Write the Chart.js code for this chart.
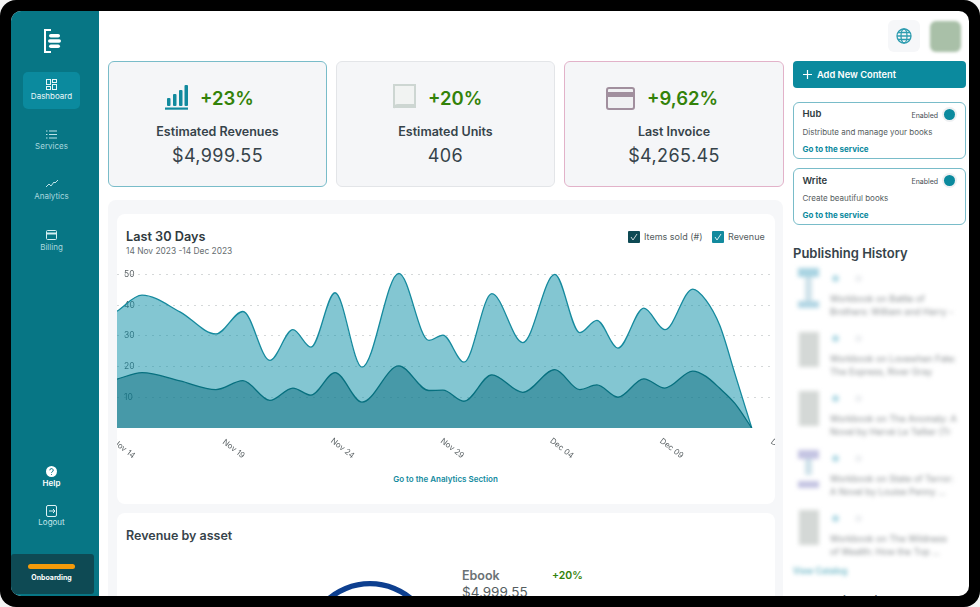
<!DOCTYPE html>
<html><head><meta charset="utf-8">
<script src="https://cdn.jsdelivr.net/npm/chart.js@4"></script>
<style>
*{box-sizing:border-box}
html,body{margin:0;padding:0;width:980px;height:607px;overflow:hidden;background:#f4f4f4;font-family:Inter,"Noto Sans",sans-serif}
#frame{position:absolute;left:0;top:0;width:980px;height:607px;background:#000;border-radius:16px;overflow:hidden}
#screen{position:absolute;left:11px;top:11px;width:958px;height:585px;background:#fff;border-radius:10px;overflow:hidden}
#page{position:absolute;left:-11px;top:-11px;width:980px;height:607px}
.a{position:absolute}
.t{position:absolute;white-space:nowrap;transform:translateY(-50%);line-height:1}
.c{transform:translate(-50%,-50%);text-align:center}
.kpi{position:absolute;top:61px;height:126px;background:#f5f6f8;border:1px solid #e3e5e8;border-radius:6px}
.svc{position:absolute;left:793px;width:173px;height:57px;border:1px solid #79bcc9;border-radius:6px;background:#fff}
.dot{position:absolute;left:944px;width:11px;height:11px;border-radius:50%;background:#0b8a9e;box-shadow:0 0 0 2px #eef0f2}
.blur{filter:blur(2.2px)}
</style></head><body>
<div id="frame"><div id="screen"><div id="page">

<div class="a" style="left:11px;top:11px;width:88px;height:585px;background:#077685"></div>
<svg class="a" style="left:42px;top:29px" width="20" height="25" viewBox="0 0 20 25"><path d="M9 1H3v22h6" fill="none" stroke="#fff" stroke-width="2"/><rect x="7" y="5" width="11" height="3.6" rx="1.8" fill="#fff"/><rect x="6" y="10.2" width="13" height="3.6" rx="1.8" fill="#fff"/><rect x="7" y="15.4" width="11" height="3.6" rx="1.8" fill="#fff"/></svg>
<div class="a" style="left:23px;top:72px;width:57px;height:37px;background:#0b8a9e;border-radius:5px"></div>
<svg class="a" style="left:46px;top:79px" width="11" height="11" viewBox="0 0 11 11" fill="none" stroke="#e8f6f8"><rect x=".5" y=".5" width="4" height="5"/><rect x="6.5" y=".5" width="4" height="3"/><rect x=".5" y="7.5" width="4" height="3"/><rect x="6.5" y="5.5" width="4" height="5"/></svg>
<div class="t c" style="left:51.5px;top:96px;font-size:8px;color:#eaf7f9">Dashboard</div>
<svg class="a" style="left:46px;top:130px" width="11" height="9" viewBox="0 0 11 9" stroke="#bfe3e8"><path d="M0 1h1.5M3 1h8M0 4.500h1.500M3 4.500h8M0 8h1.500M3 8h8"/></svg>
<div class="t c" style="left:51.500px;top:146px;font-size:8px;color:#a9d8df">Services</div>
<svg class="a" style="left:46px;top:180px" width="12" height="8" viewBox="0 0 12 8" fill="none" stroke="#bfe3e8"><path d="M0 7l3-3 2 2 3-4 1 1 3-3"/></svg>
<div class="t c" style="left:51.500px;top:196px;font-size:8px;color:#a9d8df">Analytics</div>
<svg class="a" style="left:46px;top:230px" width="11" height="10" viewBox="0 0 11 10" fill="none" stroke="#d5eef1"><rect x=".5" y=".5" width="10" height="9" rx="1"/><path d="M.5 3.500h10" stroke-width="2"/></svg>
<div class="t c" style="left:51.500px;top:247px;font-size:8px;color:#a9d8df">Billing</div>
<svg class="a" style="left:46px;top:466px" width="11" height="11" viewBox="0 0 11 11"><circle cx="5.500" cy="5.500" r="5.500" fill="#fff"/><path d="M3.800 4.300a1.700 1.700 0 1 1 2.500 1.500c-.6.300-.8.600-.8 1.100M5.500 8.100v.8" stroke="#077685" fill="none"/></svg>
<div class="t c" style="left:51.500px;top:483px;font-size:8px;font-weight:600;color:#fff">Help</div>
<svg class="a" style="left:46px;top:505px" width="11" height="12" viewBox="0 0 11 12" fill="none" stroke="#dff2f5"><rect x=".5" y=".5" width="10" height="11" rx="1.500"/><path d="M3 6h6M7 4l2 2-2 2"/></svg>
<div class="t c" style="left:51.500px;top:522px;font-size:8px;color:#c5e6eb">Logout</div>
<div class="a" style="left:11px;top:554px;width:83px;height:40px;background:#0e4a54;border-radius:3px"></div>
<div class="a" style="left:28px;top:564px;width:47px;height:5px;background:#f39a0a;border-radius:3px"></div>
<div class="t c" style="left:51.500px;top:577px;font-size:7px;font-weight:700;color:#fff">Onboarding</div>

<div class="kpi" style="left:108px;width:219px;border-color:#79bcc9"></div>
<div class="kpi" style="left:336px;width:219px"></div>
<div class="kpi" style="left:564px;width:220px;border-color:#e2b2c9"></div>

<svg class="a" style="left:165px;top:84px" width="24" height="26" viewBox="0 0 24 26" fill="#128a9e"><rect x="2" y="14" width="3.500" height="8" rx="1"/><rect x="8" y="10" width="3.500" height="12" rx="1"/><rect x="14" y="6" width="3.500" height="16" rx="1"/><rect x="19.500" y="1" width="3.500" height="21" rx="1"/><rect x="0" y="23.500" width="23" height="2.200"/></svg>
<div class="t" style="left:200px;top:98px;font-size:18.500px;font-weight:600;color:#338209">+23%</div>
<div class="t c" style="left:217.500px;top:132px;font-size:12.500px;font-weight:600;color:#36434a">Estimated Revenues</div>
<div class="t c" style="left:217.500px;top:155.500px;font-size:18px;color:#36434a;letter-spacing:.4px">$4,999.55</div>

<svg class="a" style="left:393px;top:84px" width="24" height="26" viewBox="0 0 24 26" fill="none" stroke="#cdd6d2" stroke-width="2"><path d="M1 1h21v20H5a4 4 0 0 0-4 3z" fill="#f1f3f2"/><path d="M1 23h22"/></svg>
<div class="t" style="left:428px;top:98px;font-size:18.500px;font-weight:600;color:#338209">+20%</div>
<div class="t c" style="left:445.500px;top:132px;font-size:12.500px;font-weight:600;color:#36434a">Estimated Units</div>
<div class="t c" style="left:445.500px;top:155.500px;font-size:18px;color:#36434a;letter-spacing:.4px">406</div>

<svg class="a" style="left:606px;top:87px" width="29" height="23" viewBox="0 0 29 23"><rect x="1" y="1" width="27" height="21" rx="2" fill="#f0f1f3" stroke="#a18f9e" stroke-width="2"/><rect x="1" y="5" width="27" height="5" fill="#a18f9e"/></svg>
<div class="t" style="left:647px;top:98px;font-size:18.500px;font-weight:600;color:#338209">+9,62%</div>
<div class="t c" style="left:674px;top:132px;font-size:12.500px;font-weight:600;color:#36434a">Last Invoice</div>
<div class="t c" style="left:674px;top:155.500px;font-size:18px;color:#36434a;letter-spacing:.4px">$4,265.45</div>

<div class="a" style="left:108px;top:200px;width:675px;height:420px;background:#f6f7f9;border-radius:8px"></div>
<div class="a" style="left:117px;top:214px;width:658px;height:290px;background:#fff;border-radius:8px"></div>
<div class="a" style="left:117px;top:513px;width:658px;height:120px;background:#fff;border-radius:8px"></div>

<div class="t" style="left:126px;top:236.500px;font-size:12.700px;font-weight:600;color:#2f3a3e">Last 30 Days</div>
<div class="t" style="left:126px;top:251px;font-size:8.400px;color:#666d70">14 Nov 2023 -14 Dec 2023</div>

<svg class="a" style="left:628px;top:231px" width="12" height="12" viewBox="0 0 12 12"><rect width="12" height="12" rx="1" fill="#0e4a54"/><path d="M3 6l2 3 4-6" fill="none" stroke="#c9d6d8"/></svg>
<div class="t" style="left:644px;top:236px;font-size:9px;color:#555d60">Items sold (#)</div>
<svg class="a" style="left:712px;top:231px" width="12" height="12" viewBox="0 0 12 12"><rect width="12" height="12" rx="1" fill="#128a9e"/><path d="M3 6l2 3 4-6" fill="none" stroke="#d6eef2"/></svg>
<div class="t" style="left:728px;top:236px;font-size:9px;color:#555d60">Revenue</div>

<div class="a" style="left:117px;top:262px;width:658px;height:208px"><canvas id="trend"></canvas></div>
<div class="t c" style="left:445.500px;top:479px;font-size:8px;font-weight:600;color:#128a9e">Go to the Analytics Section</div>

<div class="t" style="left:126px;top:536px;font-size:12.500px;font-weight:600;color:#36434a">Revenue by asset</div>
<div class="a" style="left:290px;top:567px;width:160px;height:160px"><canvas id="asset"></canvas></div>
<div class="t" style="left:462px;top:576px;font-size:12.500px;font-weight:600;color:#6b7275">Ebook</div>
<div class="t" style="left:552px;top:576px;font-size:10.500px;font-weight:600;color:#338209">+20%</div>
<div class="t" style="left:462px;top:593px;font-size:13.500px;color:#555d60">$4,999.55</div>

<div class="a" style="left:888px;top:20px;width:32px;height:32px;background:#f6f7f9;border-radius:6px"></div>
<svg class="a" style="left:896px;top:28px" width="16" height="16" viewBox="0 0 16 16" fill="none" stroke="#2f9db0" stroke-width="1.300"><circle cx="8" cy="8" r="7"/><ellipse cx="8" cy="8" rx="3" ry="7"/><path d="M1 8h14M2 4.500h12M2 11.500h12"/></svg>
<div class="a" style="left:930px;top:21px;width:31px;height:31px;background:#a9c0a8;border-radius:6px;filter:blur(1.500px)"></div>

<div class="a" style="left:793px;top:61px;width:173px;height:27px;background:#0b8a9e;border-radius:4px"></div>
<svg class="a" style="left:803px;top:70px" width="9" height="9" viewBox="0 0 9 9" stroke="#fff" stroke-width="1.200"><path d="M4.500 0v9M0 4.500h9"/></svg>
<div class="t" style="left:817px;top:75px;font-size:9.300px;font-weight:600;color:#fff">Add New Content</div>

<div class="svc" style="top:102px"></div>
<div class="t" style="left:802.500px;top:114px;font-size:9.500px;font-weight:600;color:#2f3a3e">Hub</div>
<div class="t" style="left:911.500px;top:114.500px;font-size:7px;color:#444c50">Enabled</div>
<div class="dot" style="top:109px"></div>
<div class="t" style="left:802.500px;top:132px;font-size:8px;color:#555d60">Distribute and manage your books</div>
<div class="t" style="left:802.500px;top:149px;font-size:8px;font-weight:700;color:#0b8a9e">Go to the service</div>

<div class="svc" style="top:168px"></div>
<div class="t" style="left:802.500px;top:181px;font-size:9.500px;font-weight:600;color:#2f3a3e">Write</div>
<div class="t" style="left:911.500px;top:181px;font-size:7px;color:#444c50">Enabled</div>
<div class="dot" style="top:175px"></div>
<div class="t" style="left:802.500px;top:198px;font-size:8px;color:#555d60">Create beautiful books</div>
<div class="t" style="left:802.500px;top:215px;font-size:8px;font-weight:700;color:#0b8a9e">Go to the service</div>

<div class="t" style="left:793px;top:253px;font-size:13px;font-weight:600;color:#36434a">Publishing History</div>

<div class="blur">
<div class="a" style="left:798px;top:268px;width:21px;height:9px;background:#a9d4e2"></div><div class="a" style="left:805px;top:277px;width:7px;height:24px;background:#cfe2ea"></div><div class="a" style="left:798px;top:301px;width:21px;height:7px;background:#b2d6e4"></div>
<div class="a" style="left:799px;top:332px;width:20px;height:35px;background:#d4d8d6"></div>
<div class="a" style="left:799px;top:391px;width:20px;height:35px;background:#d4d8d6"></div>
<div class="a" style="left:798px;top:450px;width:21px;height:9px;background:#c4c4e2"></div><div class="a" style="left:805px;top:459px;width:7px;height:16px;background:#cfe2ea"></div><div class="a" style="left:798px;top:481px;width:21px;height:7px;background:#c4c4e2"></div>
<div class="a" style="left:799px;top:510px;width:20px;height:35px;background:#d4d8d6"></div>
<div class="a" style="left:832px;top:275px;width:7px;height:7px;border-radius:50%;background:#b4dbe6"></div><div class="a" style="left:855px;top:275px;width:7px;height:7px;border-radius:50%;background:#eef0f2"></div>
<div class="a" style="left:832px;top:335px;width:7px;height:7px;border-radius:50%;background:#b4dbe6"></div><div class="a" style="left:855px;top:335px;width:7px;height:7px;border-radius:50%;background:#eef0f2"></div>
<div class="a" style="left:832px;top:395px;width:7px;height:7px;border-radius:50%;background:#b4dbe6"></div><div class="a" style="left:855px;top:395px;width:7px;height:7px;border-radius:50%;background:#eef0f2"></div>
<div class="a" style="left:832px;top:455px;width:7px;height:7px;border-radius:50%;background:#b4dbe6"></div><div class="a" style="left:855px;top:455px;width:7px;height:7px;border-radius:50%;background:#eef0f2"></div>
<div class="a" style="left:832px;top:515px;width:7px;height:7px;border-radius:50%;background:#b4dbe6"></div><div class="a" style="left:855px;top:515px;width:7px;height:7px;border-radius:50%;background:#eef0f2"></div>
<div class="t" style="left:830px;top:298px;font-size:9px;color:#8a8f92">Workbook on Battle of</div><div class="t" style="left:830px;top:311px;font-size:9px;color:#8a8f92">Brothers: William and Harry -</div>
<div class="t" style="left:830px;top:358px;font-size:9px;color:#8a8f92">Workbook on Lovewhen Fate:</div><div class="t" style="left:830px;top:371px;font-size:9px;color:#8a8f92">The Express, River Gray</div>
<div class="t" style="left:830px;top:418px;font-size:9px;color:#8a8f92">Workbook on The Anomaly: A</div><div class="t" style="left:830px;top:431px;font-size:9px;color:#8a8f92">Novel by Hervé Le Tellier (Tr</div>
<div class="t" style="left:830px;top:478px;font-size:9px;color:#8a8f92">Workbook on State of Terror:</div><div class="t" style="left:830px;top:491px;font-size:9px;color:#8a8f92">A Novel by Louise Penny ...</div>
<div class="t" style="left:830px;top:538px;font-size:9px;color:#8a8f92">Workbook on The Wildness</div><div class="t" style="left:830px;top:551px;font-size:9px;color:#8a8f92">of Wealth: How the Top ...</div>
<div class="t" style="left:793px;top:571px;font-size:8.500px;font-weight:600;color:#6cb6c6">View Catalog</div>
</div>
<div class="t" style="left:793px;top:601px;font-size:13px;font-weight:600;color:#36434a">Top Selling Titles</div>

</div></div></div>
<script>
const dayPositions=[0,1.14,2.87,4.51,5.74,6.97,8.02,8.84,9.94,11.17,12.85,14.22,14.86,15.82,17.09,18.5,19.96,21.1,21.88,22.84,24.02,24.98,26.25,26.85,27.48,28.17,28.94];
const revenueValues=[38,43.2,37.8,30.6,37.9,22,32,26.3,44,19.8,50.3,28.5,30.2,21.4,43.7,27.8,50,31,35,26,39,32,45.2,41.6,33.4,17.7,0];
const itemsSoldValues=[15.9,18,15.3,12.5,15.4,9,13,10.7,18,8.4,20.2,12.2,12.3,8.7,17.3,11.6,19,12.5,14,10,16,13,18.5,16.8,12.9,8,0];
const xTickLabels=["Nov 14","Nov 19","Nov 24","Nov 29","Dec 04","Dec 09","Dec 14"];
const yTickValues=[10,20,30,40,50];
const assetNames=["Ebook"];
const assetValues=[4999.55];

const toPoints=v=>v.map((y,i)=>({x:dayPositions[i],y}));
new Chart(document.getElementById('trend'),{
 type:'line',
 data:{datasets:[
  {label:'Items sold (#)',data:toPoints(itemsSoldValues),borderColor:'#07707f',backgroundColor:'rgba(11,110,128,0.5)',borderWidth:1.3,fill:'origin',pointRadius:0,cubicInterpolationMode:'monotone'},
  {label:'Revenue',data:toPoints(revenueValues),borderColor:'#158a9e',backgroundColor:'rgba(8,142,165,0.5)',borderWidth:1.3,fill:'origin',pointRadius:0,cubicInterpolationMode:'monotone'}
 ]},
 options:{
  responsive:true,maintainAspectRatio:false,animation:false,
  layout:{padding:0},
  plugins:{legend:{display:false},tooltip:{enabled:false}},
  scales:{
   x:{type:'linear',min:0,max:30,
    afterBuildTicks:s=>{s.ticks=xTickLabels.map((_,i)=>({value:i*5}));},
    afterFit:s=>{s.height=42;s.paddingLeft=0;s.paddingRight=0;},
    grid:{display:false},border:{display:false},
    ticks:{autoSkip:false,minRotation:-38,maxRotation:-38,labelOffset:17,padding:17,color:'#5c6366',font:{family:'Inter',size:8},
     callback:v=>xTickLabels[v/5]}},
   y:{min:0,max:54,
    afterBuildTicks:s=>{s.ticks=yTickValues.map(v=>({value:v}));},
    afterFit:s=>{s.width=0;s.paddingTop=0;s.paddingBottom=0;},
    grid:{color:'#d5d8d9',lineWidth:1,tickLength:0},border:{display:false,dash:[2,5]},
    ticks:{mirror:true,padding:7,color:'#5c6366',font:{family:'Inter',size:8.500}}}
  }
 }
});
new Chart(document.getElementById('asset'),{
 type:'doughnut',
 data:{labels:assetNames,datasets:[{data:assetValues,backgroundColor:['#0d3f8f'],borderWidth:0}]},
 options:{responsive:true,maintainAspectRatio:true,animation:false,cutout:'92%',layout:{padding:14},plugins:{legend:{display:false},tooltip:{enabled:false}}}
});
</script>
</body></html>
